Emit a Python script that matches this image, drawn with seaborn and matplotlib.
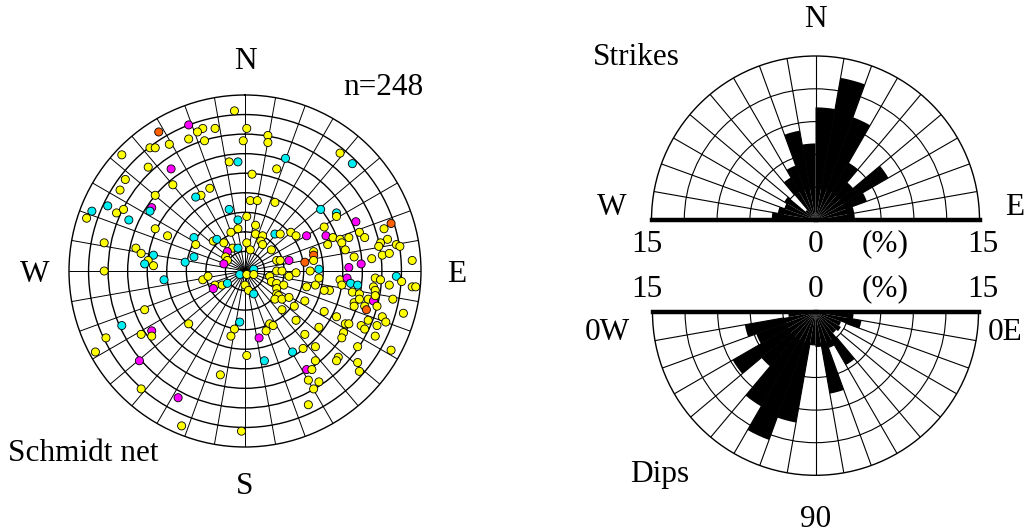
import numpy as np
import pandas as pd
import matplotlib
matplotlib.use("Agg")
import matplotlib.pyplot as plt
import seaborn as sns

# ---------------- data ----------------
# Poles on the Schmidt net: projected east / north position (% of net radius)
pole_east = [
    -6, -32, -49, -24, -27, -17, 1, 13, -32, -23, -1, 13, -54, -51, -43, -70, 54, -9, -4, 23,
    61, -55, -42, 18, 4, -68, -41, -71, -20, -25, -28, -51, 3, 7, 17, -87, -90, -78, -73, -69,
    -53, -54, -66, -9, 43, 52, 52, 63, 83, 1, -4, 6, 45, 79, -51, -44, -29, -80, 65, 68,
    81, 77, 76, 86, 88, -8, -4, 6, 10, 17, 20, 26, 29, 35, 46, 50, 54, 59, 55, 47,
    -18, -16, -28, -12, -7, 1, 9, 10, -62, -59, -52, -55, -57, -52, -34, -29, -10, -11, -10, -12,
    3, -4, 15, 18, 20, 25, 39, 39, 39, 34, 37, 42, 57, 62, 66, 59, 72, 78, 82, 95,
    -80, 5,
    -3, 1, 5, -46, -24, -21, -17, -18, -13, -10, 0, 2, 5, 14, 15, 18, 22, 25, 29, 18,
    21, 18, 18, 19, 17, 21, 25, 28, 21, 35, 40, 42, 34, 45, 48, 45, 52, 54, 58, 60,
    64, 55, 61, 65, 62, 62, 65, 68, 69, 70, 73, 74, 77, 73, 74, 74, 75, 82, 86, 89,
    84, 90, 95, 97, 78, 80, 70, 66, 68, 75, 74, 57, 59, 56, 55, 64, 83, 53, 52, 64,
    65, 42, 34, 29, 40, 33, 40, 27, 35, 38, 36, 42, 39, 36, 14, 16, 12, 8, -3, -6,
    -8, 1, 11, -14, -32, -57, -70, -53, -59, -53, -79, -85, -60, -59, -38, -36, -2,
]
pole_north = [
    91, 83, 79, 81, 79, 81, 81, 77, 75, 74, 74, 73, 70, 70, 72, 66, 67, 62, 62, 64,
    61, 59, 58, 58, 55, 52, 49, 46, 47, 43, 42, 43, 40, 40, 39, 34, 30, 37, 33, 35,
    36, 34, 29, 35, 35, 33, 31, 28, 27, 31, 29, 26, 25, 24, 24, 20, 19, 16, 22, 19,
    18, 16, 14, 15, 14, 22, 24, 21, 20, 21, 21, 22, 20, 20, 20, 19, 18, 19, 16, 15,
    17, 18, 15, 16, 13, 16, 17, 15, 13, 10, 9, 6, 4, 3, 5, 8, 11, 8, 6, 4,
    12, 13, 12, 6, 6, 6, 11, 9, 6, 5, 0, 1, 12, 8, 4, 2, 7, 9, 10, 6,
    0, 1,
    -2, -2, -2, -5, -5, -3, -8, -10, -8, -7, -8, -11, -13, -3, -6, -7, -8, -3, -1, 0,
    0, -10, -13, -14, -16, -16, -15, -20, -22, -9, -8, -4, -17, -23, -11, -11, -26, -5, -4, -7,
    -8, -8, -12, -13, -18, -20, -16, -20, -22, -16, -17, -4, -5, -9, -11, -14, -20, -8, -3, -6,
    -16, -24, -9, -9, -26, -29, -28, -31, -33, -31, -37, -30, -30, -35, -38, -43, -45, -49, -51, -52,
    -57, -32, -36, -28, -43, -44, -51, -46, -56, -56, -62, -63, -67, -76, -30, -31, -34, -38, -29, -33,
    -37, -48, -51, -59, -30, -22, -31, -34, -36, -37, -38, -46, -51, -67, -72, -88, -91,
]
# colour class of each pole: y = yellow, c = cyan, m = magenta, o = orange
pole_set = list(
    "ymoyyyyyyyyyyyyyyycc" "cymyyyyyyyc" "yyyycycyy" "mcccccymo"
    "ycyyyyycyyy" "yyyyy" "yyyycyyymmyyyyy" "ycyyyyyyyycycyccmyym"
    "ycyyymyoyoycyymmyyyy" "yc"
    "cyycyyymyc" "yycyyyyyyy" + "y" * 18 + "m" + "cc" + "y" * 7 + "o" + "y" + "m"
    + "y" * 7 + "c" + "y" * 28 + "cm" + "y" * 8 + "m" + "c" + "yyy" + "c" + "yyy"
    + "c" + "m" + "yyyy" + "m" + "y" + "m" + "yy"
)
set_colors = {"y": "#ffff00", "c": "#00eef2", "m": "#ff00ff", "o": "#ff6000"}

# Rose diagrams: % of measurements per 10-degree class
strike_from = [270, 280, 290, 300, 310, 320, 330, 340, 350, 0, 10, 20, 30, 40, 50, 60, 70, 80]
strike_pct = [4.0, 3.5, 3.0, 3.3, 1.2, 4.5, 5.3, 8.3, 7.0, 10.3, 13.2, 10.0, 6.0, 4.5, 7.7, 5.0, 3.6, 3.6]
dip_from = [0, 10, 20, 30, 40, 50, 60, 70, 80]
dip_west_pct = [2.5, 6.6, 5.8, 8.8, 6.5, 10.0, 12.5, 10.3, 3.0]
dip_east_pct = [3.5, 4.3, 2.5, 2.7, 2.5, 5.6, 3.5, 7.6, 3.2]
rose_max = 15
rose_rings = [3, 6, 9, 12]

# ---------------- style ----------------
sns.set_theme(style="white")
plt.rcParams["font.family"] = ["Liberation Serif", "DejaVu Serif"]
plt.rcParams["text.color"] = "black"

W, H = 1029, 532
fig = plt.figure(figsize=(W / 100, H / 100), dpi=100)
fig.patch.set_facecolor("white")


def fx(px):
    return px / W


def fy(py):
    return 1 - py / H


# ---------------- Schmidt net ----------------
n = min(len(pole_east), len(pole_north), len(pole_set))
poles = pd.DataFrame({"east": pole_east[:n], "north": pole_north[:n], "set": pole_set[:n]})
poles["theta"] = np.arctan2(poles["east"], poles["north"])
poles["dist"] = np.hypot(poles["east"], poles["north"]) * 0.9

ax = fig.add_axes([fx(69), 85 / H, 352 / W, 352 / H], projection="polar")
ax.set_theta_zero_location("N")
ax.set_theta_direction(-1)
sns.scatterplot(data=poles, x="theta", y="dist", hue="set", palette=set_colors,
                s=34, edgecolor="black", linewidth=0.6, legend=False, ax=ax, zorder=3)
ax.set_rlim(0, 90)
ring_r = np.arange(10, 90, 10)
ax.set_rgrids(ring_r, labels=[""] * len(ring_r))
spokes = np.arange(0, 360, 10)
ax.set_thetagrids(spokes, labels=[""] * len(spokes))
ax.xaxis.grid(True, color="black", linewidth=0.7)
ax.yaxis.grid(True, color="black", linewidth=1.0)
ax.set_axisbelow(True)
ax.spines["polar"].set_linewidth(1.0)
ax.spines["polar"].set_color("black")
ax.set_xlabel("")
ax.set_ylabel("")
ax.tick_params(length=0, pad=0)

# ---------------- rose helpers ----------------
def style_rose(a, thmin, thmax, spoke_deg):
    a.set_theta_zero_location("N")
    a.set_theta_direction(-1)
    a.set_thetamin(thmin)
    a.set_thetamax(thmax)
    a.set_rlim(0, rose_max)
    a.set_rgrids(rose_rings, labels=[""] * len(rose_rings))
    a.set_thetagrids([])
    a.yaxis.grid(True, color="black", linewidth=0.8)
    a.set_axisbelow(True)
    for s in ("start", "end"):
        a.spines[s].set_linewidth(3.2)
        a.spines[s].set_color("black")
    a.spines["polar"].set_linewidth(1.0)
    a.spines["polar"].set_color("black")
    a.spines["inner"].set_visible(False)
    for d in spoke_deg:
        th = np.deg2rad(d)
        a.plot([th, th], [rose_rings[0], rose_max], color="black", linewidth=0.8, zorder=2)
    a.tick_params(length=0, pad=0)


width = np.deg2rad(10)

# Strikes (upper half)
axs = fig.add_axes([fx(651.5), 230 / H, 328 / W, 328 / H], projection="polar")
style_rose(axs, -90, 90, range(-80, 90, 10))
s_from = np.array(strike_from, dtype=float)
s_from = np.where(s_from >= 180, s_from - 360, s_from)
axs.bar(np.deg2rad(s_from + 5), strike_pct, width=width, color="black",
        linewidth=0, zorder=3, align="center")

# Dips (lower half): west dips to the left, east dips to the right
axd = fig.add_axes([fx(652.5), -24.8 / H, 326 / W, 326 / H], projection="polar")
style_rose(axd, 90, 270, range(100, 270, 10))
d_from = np.array(dip_from, dtype=float)
axd.bar(np.deg2rad(270 - (d_from + 5)), dip_west_pct, width=width, color="black",
        linewidth=0, zorder=3, align="center")
axd.bar(np.deg2rad(90 + (d_from + 5)), dip_east_pct, width=width, color="black",
        linewidth=0, zorder=3, align="center")

# ---------------- labels ----------------
fs = 22.5
c = dict(fontsize=fs, ha="center", va="baseline")
l = dict(fontsize=fs, ha="left", va="baseline")
fig.text(fx(245.7), fy(69), "N", **c)
fig.text(fx(35), fy(282), "W", **c)
fig.text(fx(456.7), fy(282), "E", **c)
fig.text(fx(245), fy(494), "S", **c)
fig.text(fx(343), fy(95), "n=248", **l)
fig.text(fx(8.3), fy(461), "Schmidt net", **l)

fig.text(fx(815.7), fy(26.7), "N", **c)
fig.text(fx(593.3), fy(65), "Strikes", **l)
fig.text(fx(611.7), fy(215), "W", **c)
fig.text(fx(1015), fy(215), "E", **c)
for yb in (251.7, 296.7):
    fig.text(fx(646.7), fy(yb), "15", **c)
    fig.text(fx(815.8), fy(yb), "0", **c)
    fig.text(fx(885), fy(yb), "(%)", **c)
    fig.text(fx(982.5), fy(yb), "15", **c)
fig.text(fx(607.5), fy(340), "0W", **c)
fig.text(fx(1005), fy(340), "0E", **c)
fig.text(fx(630), fy(481.7), "Dips", **l)
fig.text(fx(815.5), fy(526.7), "90", **c)

fig.savefig("out.png", dpi=100, facecolor="white")
